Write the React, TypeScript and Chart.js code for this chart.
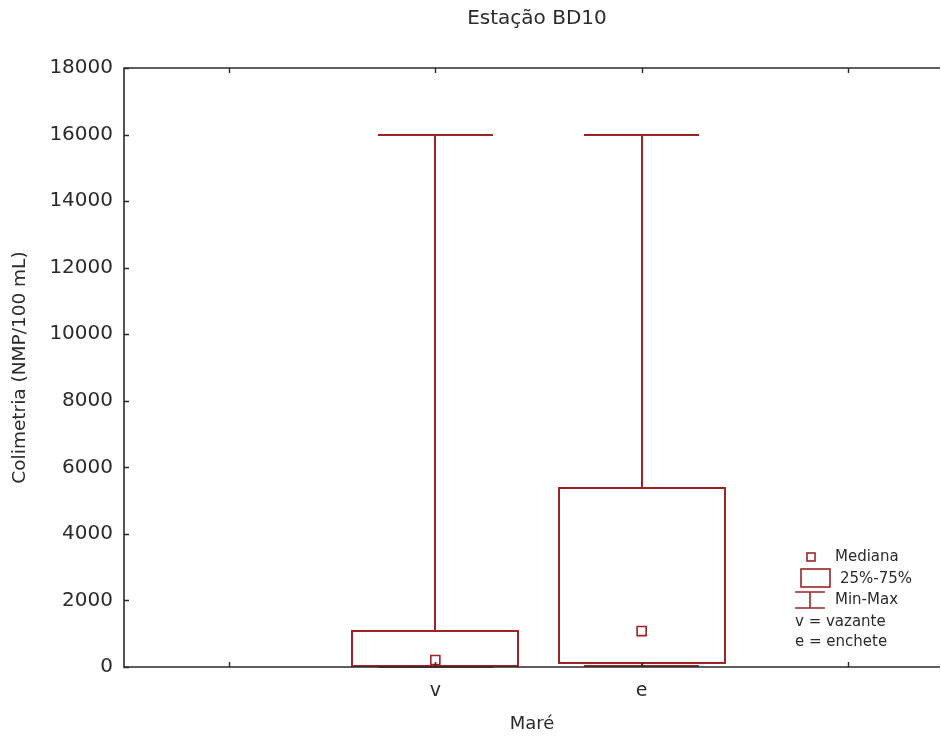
import React, { useEffect, useRef } from 'react';
import { Chart, registerables } from 'chart.js';

Chart.register(...registerables);

// ---- Data ----
const categories = ['v', 'e'];
const categoryPositions = [1, 2];
const minValues = [10, 30];
const q1Values = [30, 130];
const medianValues = [210, 1080];
const q3Values = [1075, 5380];
const maxValues = [16000, 16000];
const yTickValues = [0, 2000, 4000, 6000, 8000, 10000, 12000, 14000, 16000, 18000];
const xTickValues = [0, 1, 2, 3];
const chartTitle = 'Estação BD10';
const yAxisTitle = 'Colimetria (NMP/100 mL)';
const xAxisTitle = 'Maré';
const legendMedian = 'Mediana';
const legendBox = '25%-75%';
const legendWhisker = 'Min-Max';
const legendNotes = ['v = vazante', 'e = enchete'];

// ---- Style ----
const RED = '#9b2424';
const AXIS = '#2a2a2a';
const TEXT = '#2b2b2b';
const FONT = "'DejaVu Sans', sans-serif";
const BOX_HALF = 0.402;
const CAP_HALF = 0.279;

const boxPlugin = {
  id: 'boxWhisker',
  beforeDatasetsDraw(chart: any) {
    const { ctx, scales } = chart;
    const x = scales.x;
    const y = scales.y;
    ctx.save();
    ctx.strokeStyle = RED;
    ctx.lineWidth = 2;
    categoryPositions.forEach((p, i) => {
      const cx = Math.round(x.getPixelForValue(p));
      const bl = Math.round(x.getPixelForValue(p - BOX_HALF));
      const br = Math.round(x.getPixelForValue(p + BOX_HALF));
      const cl = Math.round(x.getPixelForValue(p - CAP_HALF));
      const cr = Math.round(x.getPixelForValue(p + CAP_HALF));
      const yMin = Math.round(y.getPixelForValue(minValues[i]));
      const yQ1 = Math.round(y.getPixelForValue(q1Values[i]));
      const yQ3 = Math.round(y.getPixelForValue(q3Values[i]));
      const yMax = Math.round(y.getPixelForValue(maxValues[i]));
      ctx.beginPath();
      ctx.moveTo(cx, yQ3);
      ctx.lineTo(cx, yMax);
      ctx.moveTo(cl, yMax);
      ctx.lineTo(cr, yMax);
      ctx.moveTo(cx, yQ1);
      ctx.lineTo(cx, yMin);
      ctx.moveTo(cl, yMin);
      ctx.lineTo(cr, yMin);
      ctx.stroke();
      ctx.strokeRect(bl, yQ3, br - bl, yQ1 - yQ3);
    });
    ctx.restore();
  },
  afterDraw(chart: any) {
    const { ctx, chartArea, scales } = chart;
    const { left, right, top, bottom } = chartArea;
    const x = scales.x;
    const y = scales.y;
    ctx.save();
    ctx.strokeStyle = AXIS;
    ctx.lineWidth = 1.6;
    ctx.beginPath();
    ctx.moveTo(right, top);
    ctx.lineTo(left, top);
    ctx.lineTo(left, bottom);
    ctx.lineTo(right, bottom);
    ctx.stroke();
    ctx.lineWidth = 1.4;
    ctx.beginPath();
    xTickValues.forEach((v) => {
      const px = Math.round(x.getPixelForValue(v)) + 0.5;
      ctx.moveTo(px, top);
      ctx.lineTo(px, top + 5);
      ctx.moveTo(px, bottom);
      ctx.lineTo(px, bottom - 5);
    });
    yTickValues.forEach((v) => {
      const py = Math.round(y.getPixelForValue(v)) + 0.5;
      ctx.moveTo(left, py);
      ctx.lineTo(left + 5, py);
    });
    ctx.stroke();

    // category labels on the x axis
    ctx.fillStyle = TEXT;
    ctx.font = `19px ${FONT}`;
    ctx.textAlign = 'center';
    ctx.textBaseline = 'middle';
    categoryPositions.forEach((p, i) => {
      ctx.fillText(categories[i], x.getPixelForValue(p), bottom + 24);
    });

    // title
    ctx.font = `20px ${FONT}`;
    ctx.fillText(chartTitle, (left + right) / 2 + 5, 19);

    // legend
    const lx = right - 140;
    const ly = bottom - 120;
    ctx.strokeStyle = RED;
    ctx.lineWidth = 1.6;
    ctx.strokeRect(lx + 7, ly + 6, 8, 8);
    ctx.strokeRect(lx + 1, ly + 22, 29, 18);
    ctx.beginPath();
    ctx.moveTo(lx + 10, ly + 45);
    ctx.lineTo(lx + 10, ly + 61);
    ctx.moveTo(lx - 5, ly + 45);
    ctx.lineTo(lx + 25, ly + 45);
    ctx.moveTo(lx - 5, ly + 61);
    ctx.lineTo(lx + 25, ly + 61);
    ctx.stroke();
    ctx.fillStyle = TEXT;
    ctx.font = `15px ${FONT}`;
    ctx.textAlign = 'left';
    ctx.textBaseline = 'middle';
    ctx.fillText(legendMedian, lx + 35, ly + 10);
    ctx.fillText(legendBox, lx + 40, ly + 32);
    ctx.fillText(legendWhisker, lx + 35, ly + 53);
    ctx.fillText(legendNotes[0], lx - 5, ly + 75);
    ctx.fillText(legendNotes[1], lx - 5, ly + 95);
    ctx.restore();
  },
};

export default function App() {
  const canvasRef = useRef<HTMLCanvasElement | null>(null);

  useEffect(() => {
    const canvas = canvasRef.current;
    if (!canvas) return;
    const chart = new Chart(canvas, {
      type: 'scatter',
      data: {
        datasets: [
          {
            label: legendMedian,
            data: categoryPositions.map((p, i) => ({ x: p, y: medianValues[i] })),
            pointStyle: 'rect',
            pointRadius: 6.4,
            pointHoverRadius: 6.4,
            borderColor: RED,
            backgroundColor: '#ffffff',
            borderWidth: 1.6,
          },
        ],
      },
      options: {
        animation: false,
        responsive: false,
        devicePixelRatio: 1,
        layout: { autoPadding: false, padding: { top: 68, right: 1, left: 0, bottom: 0 } },
        plugins: {
          legend: { display: false },
          tooltip: { enabled: false },
          title: { display: false },
        },
        scales: {
          x: {
            type: 'linear',
            min: -0.509,
            max: 3.446,
            afterBuildTicks: (s: any) => {
              s.ticks = xTickValues.map((v) => ({ value: v }));
            },
            afterFit: (s: any) => {
              s.height = 70;
              s.paddingLeft = 0;
              s.paddingRight = 0;
            },
            grid: { display: false },
            border: { display: false },
            ticks: { display: false, padding: 0 },
            title: {
              display: true,
              text: xAxisTitle,
              color: TEXT,
              font: { family: FONT, size: 18 },
              padding: { top: 0, bottom: 2 },
            },
          },
          y: {
            min: 0,
            max: 18000,
            afterBuildTicks: (s: any) => {
              s.ticks = yTickValues.map((v) => ({ value: v }));
            },
            afterFit: (s: any) => {
              s.width = 124;
              s.paddingTop = 0;
              s.paddingBottom = 0;
            },
            grid: { display: false },
            border: { display: false },
            ticks: {
              padding: 3,
              color: TEXT,
              font: { family: FONT, size: 20 },
              callback: (v: any) => String(v),
            },
            title: {
              display: true,
              text: yAxisTitle,
              color: TEXT,
              font: { family: FONT, size: 18.5 },
              padding: { top: 9, bottom: 0 },
            },
          },
        },
      },
      plugins: [boxPlugin],
    });
    return () => chart.destroy();
  }, []);

  return (
    <div style={{ position: 'absolute', left: 0, top: 0, width: 941, height: 737, background: '#fff' }}>
      <canvas ref={canvasRef} width={941} height={737} style={{ display: 'block' }} />
    </div>
  );
}
